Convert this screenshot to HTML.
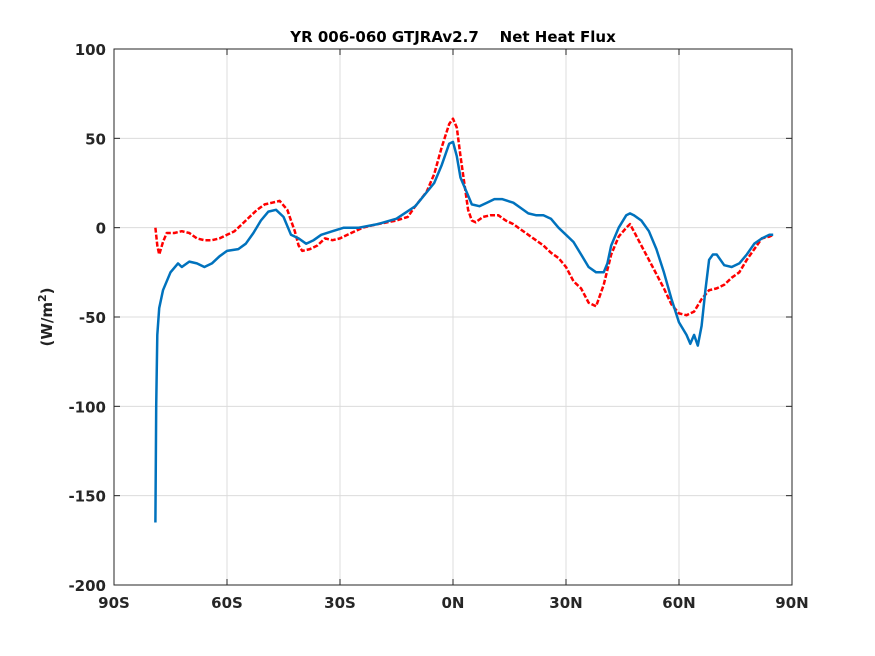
<!DOCTYPE html>
<html><head><meta charset="utf-8"><style>
body{margin:0;background:#fff;}
svg{display:block;font-family:"DejaVu Sans","Liberation Sans",sans-serif;font-weight:bold;}
</style></head><body>
<svg id="chart" width="875" height="656" viewBox="0 0 875 656">
<rect width="875" height="656" fill="#fff"/>
<text x="453" y="42" text-anchor="middle" font-size="15" fill="#000" xml:space="preserve">YR 006-060 GTJRAv2.7    Net Heat Flux</text>
<text transform="translate(52,317) rotate(-90)" text-anchor="middle" font-size="15" fill="#222">(W/m<tspan dy="-6" font-size="11">2</tspan><tspan dy="6">)</tspan></text>
<g id="grid"></g><g id="series"></g><g id="axes"></g>
</svg>
<script>
const xTicks=[-90,-60,-30,0,30,60,90];
const xTickLabels=["90S","60S","30S","0N","30N","60N","90N"];
const yTicks=[100,50,0,-50,-100,-150,-200];
const yTickLabels=["100","50","0","-50","-100","-150","-200"];
const blueLat=[-79,-78.8,-78.5,-78,-77,-75,-73,-72,-70,-68,-66,-64,-62,-60,-57,-55,-53,-51,-49,-47,-45,-43,-41,-39,-37,-35,-32,-29,-25,-20,-15,-10,-5,-3,-1,0,1,2,4,5,7,9,11,13,16,18,20,22,24,26,28,30,32,34,36,38,40,41,42,44,46,47,48,50,52,54,56,58,60,62,63,64,65,66,67,68,69,70,72,74,76,78,80,82,84,85];
const blueVal=[-165,-100,-60,-45,-35,-25,-20,-22,-19,-20,-22,-20,-16,-13,-12,-9,-3,4,9,10,6,-4,-6,-9,-7,-4,-2,0,0,2,5,12,25,35,47,48,40,28,18,13,12,14,16,16,14,11,8,7,7,5,0,-4,-8,-15,-22,-25,-25,-20,-10,0,7,8,7,4,-2,-12,-25,-40,-53,-60,-65,-60,-66,-55,-35,-18,-15,-15,-21,-22,-20,-15,-9,-6,-4,-4];
const redLat=[-79,-78.5,-78,-77,-76,-74,-72,-70,-68,-66,-64,-62,-60,-58,-56,-54,-52,-50,-48,-46,-44,-43,-42,-41,-40,-38,-36,-34,-32,-30,-28,-26,-24,-20,-15,-12,-10,-7,-5,-3,-1,0,1,2,3,4,5,6,8,10,12,14,16,18,20,22,24,26,28,30,32,34,36,38,40,42,44,46,47,48,50,52,54,56,58,60,62,64,66,68,70,72,74,76,78,80,82,84,85];
const redVal=[0,-10,-15,-8,-3,-3,-2,-3,-6,-7,-7,-6,-4,-2,2,6,10,13,14,15,10,4,-2,-10,-13,-12,-10,-6,-7,-6,-4,-2,0,2,4,6,12,20,30,45,58,61,56,40,25,10,4,3,6,7,7,4,2,-1,-4,-7,-10,-14,-17,-22,-30,-34,-42,-44,-32,-15,-5,0,2,-2,-10,-18,-26,-34,-43,-48,-49,-47,-40,-35,-34,-32,-28,-25,-18,-12,-6,-5,-4];
const L=114,R=792,T=49,B=585;
const xs=v=>L+(v+90)/180*(R-L);
const ys=v=>T+(100-v)/300*(B-T);
const NS="http://www.w3.org/2000/svg";
function mk(t,a,p){const e=document.createElementNS(NS,t);for(const k in a)e.setAttribute(k,a[k]);p.appendChild(e);return e;}
const grid=document.getElementById('grid'),axes=document.getElementById('axes'),ser=document.getElementById('series');
xTicks.forEach((v,i)=>{
 const g=mk('line',{x1:xs(v),x2:xs(v),y1:T,y2:B,stroke:'#dcdcdc','stroke-width':1},grid);
 
 
 mk('line',{x1:xs(v),x2:xs(v),y1:B,y2:B-6,stroke:'#262626'},axes);
 mk('line',{x1:xs(v),x2:xs(v),y1:T,y2:T+6,stroke:'#262626'},axes);
 const t=mk('text',{x:xs(v),y:B+23,'text-anchor':'middle','font-size':15,fill:'#262626'},axes);
 t.textContent=xTickLabels[i];
 
 
});
yTicks.forEach((v,i)=>{
 const g=mk('line',{x1:L,x2:R,y1:ys(v),y2:ys(v),stroke:'#dcdcdc','stroke-width':1},grid);
 
 
 mk('line',{x1:L,x2:L+6,y1:ys(v),y2:ys(v),stroke:'#262626'},axes);
 mk('line',{x1:R,x2:R-6,y1:ys(v),y2:ys(v),stroke:'#262626'},axes);
 const t=mk('text',{x:L-8,y:ys(v)+6,'text-anchor':'end','font-size':15,fill:'#262626'},axes);
 t.textContent=yTickLabels[i];
 
 
});
const box=mk('rect',{x:L,y:T,width:R-L,height:B-T,fill:'none',stroke:'#262626','stroke-width':1},axes);


function pts(la,va){return la.map((x,i)=>xs(x).toFixed(1)+','+ys(va[i]).toFixed(1)).join(' ');}
const rl=mk('polyline',{points:pts(redLat,redVal),fill:'none',stroke:'#ff0000','stroke-width':2.5,'stroke-dasharray':'5,2','stroke-linejoin':'round'},ser);


const bl=mk('polyline',{points:pts(blueLat,blueVal),fill:'none',stroke:'#0072BD','stroke-width':2.5,'stroke-linejoin':'round'},ser);


</script>
</body></html>
